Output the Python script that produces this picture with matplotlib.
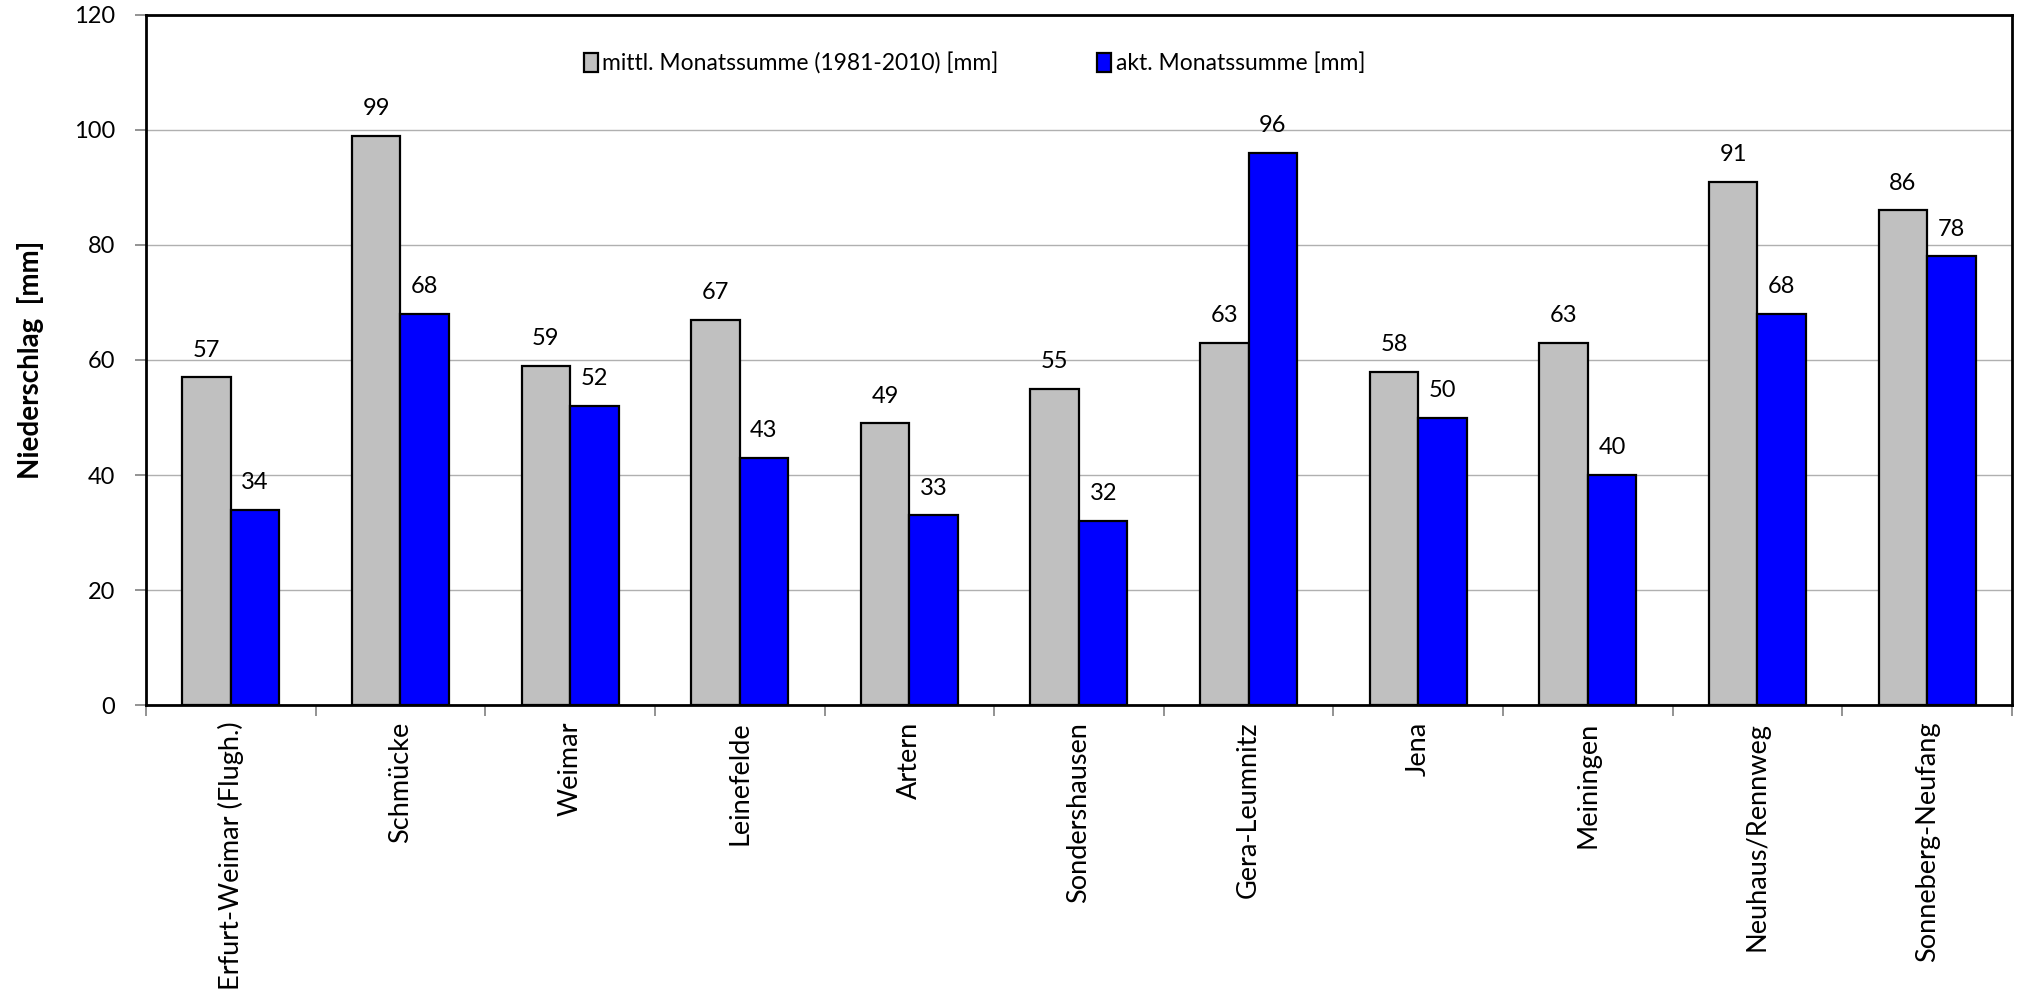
import numpy as np
import matplotlib
matplotlib.use("Agg")
import matplotlib.pyplot as plt
from matplotlib.ticker import FixedLocator

# data
stations = ["Erfurt-Weimar (Flugh.)", "Schmücke", "Weimar", "Leinefelde", "Artern",
            "Sondershausen", "Gera-Leumnitz", "Jena", "Meiningen", "Neuhaus/Rennweg",
            "Sonneberg-Neufang"]
mean_1981_2010 = [57, 99, 59, 67, 49, 55, 63, 58, 63, 91, 86]
current_month = [34, 68, 52, 43, 33, 32, 96, 50, 40, 68, 78]
yticks = [0, 20, 40, 60, 80, 100, 120]

plt.rcParams['font.family'] = ['Lato', 'DejaVu Sans']

fig = plt.figure(figsize=(20.2, 9.89), dpi=100)
ax = fig.add_axes([0.0723, 0.287, 0.9237, 0.698])

x = np.arange(len(stations))
w = 0.286
b1 = ax.bar(x - w / 2, mean_1981_2010, w, color="#c0c0c0", edgecolor="black",
            linewidth=1.6, label="mittl. Monatssumme (1981-2010) [mm]", zorder=3)
b2 = ax.bar(x + w / 2, current_month, w, color="#0000ff", edgecolor="black",
            linewidth=1.6, label="akt. Monatssumme [mm]", zorder=3)

for bars in (b1, b2):
    for r in bars:
        ax.annotate(f"{int(r.get_height())}", (r.get_x() + r.get_width() / 2, r.get_height()),
                    xytext=(0, 12), textcoords="offset points", ha="center", va="bottom",
                    fontsize=17)

ax.set_xlim(-0.5, len(stations) - 0.5)
ax.set_ylim(0, 120)
ax.set_yticks(yticks)
ax.set_yticklabels([str(v) for v in yticks], fontsize=17)
ax.yaxis.grid(True, color="#b0b0b0", linewidth=1.0, zorder=0)

ax.set_xticks(x)
ax.set_xticklabels(stations, rotation=90, fontsize=19.5, va="top")
ax.tick_params(axis="x", which="major", length=0, pad=12)
ax.xaxis.set_minor_locator(FixedLocator(np.arange(-0.5, len(stations) + 0.5, 1)))
ax.tick_params(axis="x", which="minor", length=8, color="#808080", width=1.2)
ax.tick_params(axis="y", length=8, color="#808080", width=1.2, pad=14)

for s in ax.spines.values():
    s.set_linewidth(2.0)
    s.set_color("black")

ax.set_ylabel("Niederschlag  [mm]", fontsize=20, fontweight="bold", labelpad=22)

ax.legend(loc="center", bbox_to_anchor=(0.444, 0.930), ncol=2, frameon=False,
          fontsize=16.5, handlelength=0.6, handleheight=0.9, handletextpad=0.2,
          columnspacing=4.3)

fig.savefig("out.png", dpi=100)
